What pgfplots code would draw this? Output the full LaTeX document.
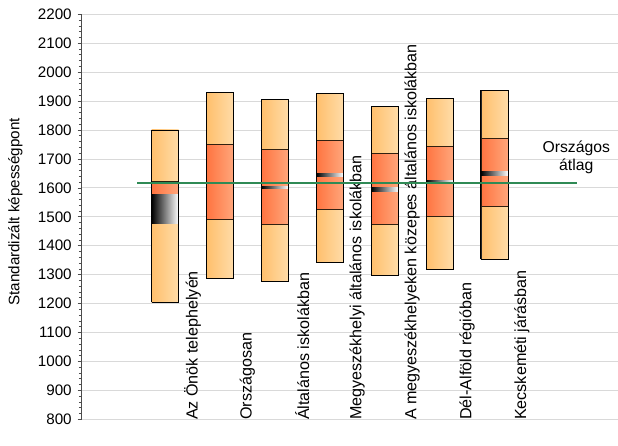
\documentclass[border=0pt]{standalone}
\usepackage{fontspec}
\setmainfont{Liberation Sans}
\usepackage{pgfplots}
\pgfplotsset{compat=1.18}
\usepackage{pgfplotstable}
\definecolor{lightL}{HTML}{FFBF6C}
\definecolor{lightR}{HTML}{FFDCA8}
\definecolor{darkL}{HTML}{FF7440}
\definecolor{darkR}{HTML}{FFA67B}
\definecolor{avg}{HTML}{2F8A55}
\definecolor{gridc}{HTML}{D9D9D9}

% x, 5th pct, Q1, mean CI low, mean CI high, Q3, 95th pct
\pgfplotstableread{
x lo q1 mlo mhi q3 hi
0 1205 1478 1478 1578 1621 1800
1 1287 1491 1614 1619 1751 1930
2 1277 1474 1599 1604 1733 1906
3 1343 1526 1639 1648 1763 1927
4 1298 1474 1587 1601 1718 1881
5 1318 1500 1620 1625 1744 1908
6 1353 1535 1643 1656 1771 1937
}\datatable

\begin{document}
\begin{tikzpicture}
\pgfplotsset{common/.style={scale only axis, width=402.2pt, height=303.75pt,
  xmin=-1.517, xmax=8.25, ymin=800, ymax=2200}}
\begin{axis}[common,
  axis y line*=left, axis x line*=bottom, x axis line style={draw=none},
  y axis line style={black!70, line width=0.6pt},
  ytick={800,900,...,2200}, minor y tick num=4,
  ymajorgrids, major grid style={gridc, line width=0.6pt},
  tick align=outside, major tick length=3pt, minor tick length=2.2pt,
  ytick style={black!70, line width=0.5pt},
  minor tick style={black!70, line width=0.5pt},
  /pgf/number format/1000 sep={},
  /pgf/number format/assume math mode=true,
  y tick label style={font=\fontsize{11.4}{13}\selectfont, xshift=-1pt},
  xtick={0.5,1.5,...,6.5},
  xticklabels={Az Önök telephelyén, Országosan, Általános iskolákban, Megyeszékhelyi általános iskolákban, A megyeszékhelyeken közepes általános iskolákban, Dél-Alföld régióban, Kecskeméti járásban},
  xtick style={draw=none},
  xticklabel style={rotate=90, anchor=west, font=\fontsize{12.1}{13}\selectfont, xshift=-1pt},
  ylabel={Standardizált képességpont},
  every axis y label/.style={at={(axis description cs:-0.124,0.512)}, rotate=90, anchor=center, font=\fontsize{11.4}{13}\selectfont},
  line join=miter,
]
\pgfplotsinvokeforeach{0,...,6}{
  \pgfplotstablegetelem{#1}{lo}\of\datatable \let\vlo\pgfplotsretval
  \pgfplotstablegetelem{#1}{q1}\of\datatable \let\vqa\pgfplotsretval
  \pgfplotstablegetelem{#1}{mlo}\of\datatable \let\vma\pgfplotsretval
  \pgfplotstablegetelem{#1}{mhi}\of\datatable \let\vmb\pgfplotsretval
  \pgfplotstablegetelem{#1}{q3}\of\datatable \let\vqb\pgfplotsretval
  \pgfplotstablegetelem{#1}{hi}\of\datatable \let\vhi\pgfplotsretval
  \pgfmathsetmacro\xa{#1-0.246}
  \pgfmathsetmacro\xb{#1+0.246}
  \edef\doit{%
    \noexpand\addplot[draw=black!85, line width=0.6pt, left color=lightL, right color=lightR]
      coordinates {(\xa,\vlo) (\xb,\vlo) (\xb,\vqa) (\xa,\vqa) (\xa,\vlo)};
    \noexpand\addplot[draw=black!85, line width=0.6pt, left color=lightL, right color=lightR]
      coordinates {(\xa,\vqb) (\xb,\vqb) (\xb,\vhi) (\xa,\vhi) (\xa,\vqb)};
    \noexpand\addplot[draw=black!75!brown, line width=0.6pt, left color=darkL, right color=darkR]
      coordinates {(\xa,\vqa) (\xb,\vqa) (\xb,\vqb) (\xa,\vqb) (\xa,\vqa)};
    \noexpand\addplot[draw=none, left color=black, right color=white]
      coordinates {(\xa,\vma) (\xb,\vma) (\xb,\vmb) (\xa,\vmb) (\xa,\vma)};
    \noexpand\addplot[draw=black, line width=0.7pt, fill=none]
      coordinates {(\xa,\vlo) (\xb,\vlo) (\xb,\vhi) (\xa,\vhi) (\xa,\vlo)};
  }%
  \doit
}
\coordinate (A) at (rel axis cs:0,0);
\coordinate (B) at (rel axis cs:1,1);
\end{axis}
\begin{axis}[common, hide axis]
\addplot[avg, line width=1.6pt] coordinates {(-0.51,1617) (7.51,1617)};
\node[align=center, font=\fontsize{11.8}{13.5}\selectfont] at (axis cs:7.49,1705) {Országos\\átlag};
\end{axis}
\pgfresetboundingbox
\path ([shift={(-61.3pt,-20pt)}]A) rectangle ([shift={(0pt,10.7pt)}]B);
\end{tikzpicture}
\end{document}
